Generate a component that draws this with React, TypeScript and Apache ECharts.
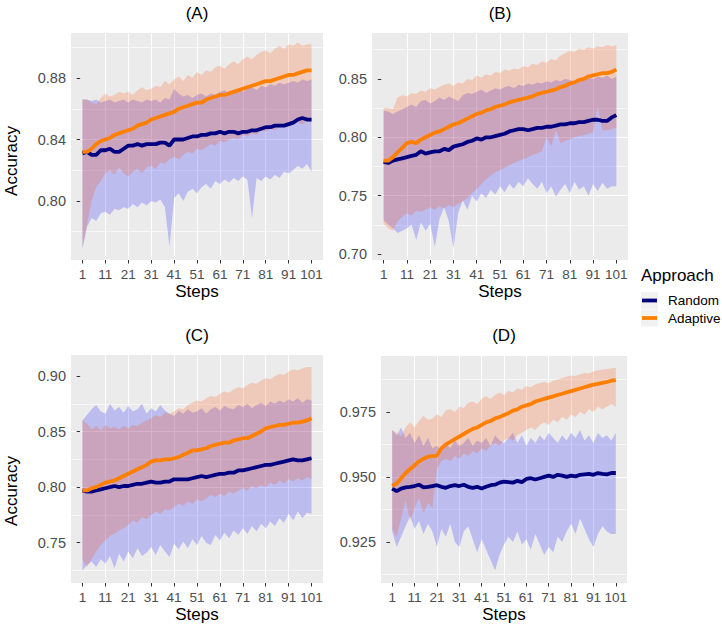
import React, { useEffect, useRef } from "react";
import * as echarts from "echarts";

// ---------- data ----------
const steps = [
  1, 3, 5, 7, 9, 11, 13, 15, 17, 19,
  21, 23, 25, 27, 29, 31, 33, 35, 37, 39,
  41, 43, 45, 47, 49, 51, 53, 55, 57, 59,
  61, 63, 65, 67, 69, 71, 73, 75, 77, 79,
  81, 83, 85, 87, 89, 91, 93, 95, 97, 99, 101,
];
const xTickLabels = [1, 11, 21, 31, 41, 51, 61, 71, 81, 91, 101];
const yTicksA = [0.8, 0.84, 0.88];
const yTicksB = [0.7, 0.75, 0.8, 0.85];
const yTicksC = [0.75, 0.8, 0.85, 0.9];
const yTicksD = [0.925, 0.95, 0.975];
const panelTitles = ["(A)", "(B)", "(C)", "(D)"];
const approaches = ["Random", "Adaptive"];

// Panel A
const aRandomMean = [
  0.831, 0.832, 0.830, 0.830, 0.833, 0.833, 0.834, 0.832, 0.832, 0.834,
  0.836, 0.836, 0.837, 0.836, 0.837, 0.837, 0.837, 0.838, 0.838, 0.836,
  0.840, 0.840, 0.840, 0.841, 0.842, 0.842, 0.843, 0.843, 0.844, 0.844,
  0.845, 0.844, 0.845, 0.845, 0.844, 0.845, 0.845, 0.846, 0.846, 0.847,
  0.848, 0.848, 0.849, 0.849, 0.849, 0.850, 0.851, 0.853, 0.854, 0.853, 0.853,
];
const aRandomLower = [
  0.769, 0.783, 0.789, 0.787, 0.792, 0.793, 0.791, 0.795, 0.794, 0.796,
  0.795, 0.798, 0.796, 0.799, 0.797, 0.800, 0.799, 0.801, 0.796, 0.770,
  0.802, 0.805, 0.800, 0.806, 0.808, 0.805, 0.809, 0.811, 0.808, 0.813,
  0.811, 0.814, 0.812, 0.815, 0.813, 0.816, 0.814, 0.789, 0.815, 0.813,
  0.816, 0.814, 0.817, 0.815, 0.819, 0.818, 0.820, 0.823, 0.821, 0.824, 0.819,
];
const aRandomUpper = [
  0.866, 0.866, 0.865, 0.866, 0.864, 0.865, 0.866, 0.864, 0.865, 0.866,
  0.864, 0.866, 0.865, 0.864, 0.866, 0.865, 0.866, 0.864, 0.867, 0.866,
  0.873, 0.870, 0.868, 0.869, 0.867, 0.869, 0.870, 0.868, 0.870, 0.869,
  0.871, 0.872, 0.870, 0.872, 0.873, 0.871, 0.873, 0.874, 0.872, 0.875,
  0.874, 0.876, 0.875, 0.877, 0.876, 0.877, 0.878, 0.877, 0.879, 0.878, 0.879,
];
const aAdaptiveMean = [
  0.832, 0.832, 0.834, 0.837, 0.839, 0.840, 0.841, 0.843, 0.844, 0.845,
  0.846, 0.847, 0.849, 0.850, 0.851, 0.853, 0.854, 0.855, 0.856, 0.857,
  0.858, 0.860, 0.861, 0.862, 0.863, 0.864, 0.864, 0.866, 0.867, 0.868,
  0.869, 0.869, 0.870, 0.871, 0.872, 0.873, 0.874, 0.875, 0.876, 0.877,
  0.878, 0.878, 0.879, 0.880, 0.881, 0.882, 0.882, 0.883, 0.884, 0.885, 0.885,
];
const aAdaptiveLower = [
  0.770, 0.785, 0.800, 0.809, 0.813, 0.818, 0.820, 0.817, 0.822, 0.818,
  0.816, 0.819, 0.821, 0.818, 0.822, 0.823, 0.821, 0.825, 0.824, 0.827,
  0.829, 0.827, 0.830, 0.832, 0.831, 0.834, 0.833, 0.835, 0.837, 0.836,
  0.839, 0.838, 0.840, 0.841, 0.840, 0.843, 0.842, 0.844, 0.843, 0.846,
  0.845, 0.847, 0.846, 0.848, 0.849, 0.848, 0.850, 0.851, 0.850, 0.852, 0.853,
];
const aAdaptiveUpper = [
  0.866, 0.866, 0.864, 0.863, 0.867, 0.870, 0.868, 0.869, 0.871, 0.870,
  0.871, 0.869, 0.872, 0.874, 0.872, 0.873, 0.875, 0.874, 0.878, 0.876,
  0.879, 0.881, 0.878, 0.882, 0.880, 0.884, 0.882, 0.885, 0.884, 0.887,
  0.888, 0.886, 0.889, 0.891, 0.889, 0.892, 0.894, 0.892, 0.895, 0.897,
  0.898, 0.896, 0.899, 0.901, 0.899, 0.902, 0.901, 0.903, 0.901, 0.902, 0.902,
];

// Panel B
const bRandomMean = [
  0.779, 0.778, 0.780, 0.781, 0.782, 0.783, 0.784, 0.785, 0.788, 0.786,
  0.787, 0.788, 0.788, 0.790, 0.789, 0.792, 0.793, 0.794, 0.796, 0.797,
  0.799, 0.798, 0.800, 0.800, 0.801, 0.802, 0.803, 0.805, 0.806, 0.807,
  0.807, 0.806, 0.807, 0.808, 0.808, 0.809, 0.809, 0.810, 0.811, 0.811,
  0.812, 0.812, 0.813, 0.813, 0.814, 0.815, 0.815, 0.814, 0.814, 0.817, 0.819,
];
const bRandomLower = [
  0.729, 0.725, 0.722, 0.718, 0.720, 0.722, 0.725, 0.712, 0.727, 0.720,
  0.726, 0.706, 0.730, 0.740, 0.728, 0.705, 0.735, 0.746, 0.738, 0.750,
  0.745, 0.752, 0.748, 0.755, 0.751, 0.758, 0.753, 0.760, 0.756, 0.762,
  0.758, 0.765, 0.760, 0.756, 0.762, 0.752, 0.758, 0.749, 0.755, 0.760,
  0.752, 0.762, 0.755, 0.758, 0.750, 0.760, 0.754, 0.761, 0.756, 0.758, 0.758,
];
const bRandomUpper = [
  0.823, 0.822, 0.820, 0.822, 0.824, 0.826, 0.828, 0.826, 0.831, 0.832,
  0.829, 0.831, 0.834, 0.832, 0.835, 0.833, 0.831, 0.836, 0.838, 0.837,
  0.839, 0.841, 0.838, 0.840, 0.842, 0.841, 0.843, 0.844, 0.842, 0.845,
  0.844, 0.846, 0.845, 0.847, 0.846, 0.848, 0.847, 0.849, 0.848, 0.850,
  0.849, 0.848, 0.850, 0.849, 0.851, 0.850, 0.852, 0.851, 0.853, 0.850, 0.852,
];
const bAdaptiveMean = [
  0.780, 0.780, 0.783, 0.787, 0.791, 0.795, 0.796, 0.795, 0.798, 0.800,
  0.802, 0.804, 0.805, 0.807, 0.809, 0.811, 0.812, 0.814, 0.816, 0.818,
  0.820, 0.821, 0.823, 0.824, 0.826, 0.827, 0.828, 0.830, 0.831, 0.832,
  0.833, 0.834, 0.835, 0.837, 0.838, 0.839, 0.840, 0.841, 0.843, 0.844,
  0.846, 0.847, 0.849, 0.850, 0.852, 0.853, 0.854, 0.855, 0.855, 0.856, 0.858,
];
const bAdaptiveLower = [
  0.726, 0.722, 0.720, 0.728, 0.732, 0.735, 0.733, 0.737, 0.736, 0.738,
  0.740, 0.738, 0.741, 0.739, 0.742, 0.740, 0.743, 0.745, 0.748, 0.752,
  0.756, 0.760, 0.764, 0.767, 0.770, 0.772, 0.774, 0.776, 0.778, 0.780,
  0.781, 0.783, 0.785, 0.786, 0.788, 0.800, 0.792, 0.806, 0.795, 0.797,
  0.798, 0.800, 0.801, 0.802, 0.803, 0.804, 0.826, 0.806, 0.806, 0.807, 0.808,
];
const bAdaptiveUpper = [
  0.825, 0.825, 0.824, 0.834, 0.836, 0.835, 0.838, 0.837, 0.840, 0.839,
  0.842, 0.841, 0.843, 0.845, 0.846, 0.844, 0.847, 0.846, 0.850, 0.849,
  0.853, 0.851, 0.854, 0.853, 0.856, 0.855, 0.858, 0.857, 0.859, 0.858,
  0.861, 0.860, 0.863, 0.862, 0.865, 0.864, 0.867, 0.866, 0.870, 0.872,
  0.874, 0.873, 0.876, 0.875, 0.877, 0.876, 0.878, 0.877, 0.879, 0.878, 0.879,
];

// Panel C
const cRandomMean = [
  0.797, 0.796, 0.796, 0.797, 0.798, 0.799, 0.800, 0.801, 0.800, 0.801,
  0.801, 0.802, 0.803, 0.803, 0.804, 0.805, 0.804, 0.804, 0.805, 0.805,
  0.807, 0.807, 0.807, 0.807, 0.808, 0.809, 0.810, 0.809, 0.810, 0.811,
  0.812, 0.812, 0.813, 0.813, 0.815, 0.815, 0.816, 0.817, 0.818, 0.819,
  0.820, 0.820, 0.821, 0.822, 0.823, 0.824, 0.825, 0.824, 0.824, 0.825, 0.826,
];
const cRandomLower = [
  0.725, 0.730, 0.733, 0.728, 0.735, 0.731, 0.738, 0.727, 0.740, 0.733,
  0.742, 0.736, 0.745, 0.738, 0.741, 0.746, 0.739, 0.748, 0.742, 0.737,
  0.749, 0.744, 0.751, 0.745, 0.753, 0.748, 0.756, 0.750, 0.748, 0.757,
  0.752, 0.759, 0.754, 0.761, 0.757, 0.763, 0.758, 0.765, 0.760, 0.767,
  0.763, 0.769, 0.765, 0.772, 0.768, 0.776, 0.770, 0.778, 0.772, 0.777, 0.776,
];
const cRandomUpper = [
  0.860, 0.865, 0.870, 0.874, 0.868, 0.866, 0.875, 0.869, 0.872, 0.867,
  0.873, 0.868, 0.870, 0.875, 0.866, 0.871, 0.868, 0.874, 0.869, 0.866,
  0.864, 0.869, 0.866, 0.870, 0.867, 0.868, 0.871, 0.866, 0.870, 0.872,
  0.869, 0.873, 0.871, 0.870, 0.874, 0.872, 0.875, 0.871, 0.874, 0.876,
  0.873, 0.877, 0.875, 0.878, 0.876, 0.879, 0.877, 0.880, 0.876, 0.879, 0.878,
];
const cAdaptiveMean = [
  0.797, 0.797, 0.799, 0.800, 0.802, 0.804, 0.805, 0.806, 0.808, 0.810,
  0.812, 0.814, 0.816, 0.818, 0.820, 0.823, 0.824, 0.824, 0.825, 0.825,
  0.826, 0.827, 0.829, 0.831, 0.833, 0.833, 0.834, 0.835, 0.837, 0.838,
  0.839, 0.840, 0.840, 0.842, 0.843, 0.844, 0.844, 0.846, 0.848, 0.850,
  0.853, 0.854, 0.855, 0.856, 0.856, 0.857, 0.858, 0.858, 0.859, 0.860, 0.862,
];
const cAdaptiveLower = [
  0.735, 0.728, 0.735, 0.742, 0.748, 0.752, 0.756, 0.758, 0.761, 0.763,
  0.766, 0.770, 0.768, 0.773, 0.771, 0.775, 0.778, 0.776, 0.780, 0.779,
  0.782, 0.785, 0.783, 0.787, 0.785, 0.789, 0.787, 0.790, 0.793, 0.791,
  0.794, 0.792, 0.796, 0.794, 0.797, 0.799, 0.797, 0.801, 0.799, 0.802,
  0.800, 0.804, 0.802, 0.806, 0.803, 0.807, 0.805, 0.808, 0.806, 0.809, 0.807,
];
const cAdaptiveUpper = [
  0.860, 0.857, 0.852, 0.855, 0.851, 0.856, 0.853, 0.854, 0.852, 0.855,
  0.853, 0.856, 0.855, 0.858, 0.860, 0.862, 0.865, 0.863, 0.867, 0.866,
  0.868, 0.871, 0.870, 0.874, 0.876, 0.878, 0.877, 0.880, 0.882, 0.881,
  0.884, 0.886, 0.885, 0.888, 0.890, 0.889, 0.892, 0.894, 0.893, 0.896,
  0.898, 0.897, 0.900, 0.902, 0.901, 0.904, 0.906, 0.905, 0.907, 0.908, 0.908,
];

// Panel D
const dRandomMean = [
  0.9455, 0.9445, 0.9455, 0.946, 0.9462, 0.9465, 0.947, 0.946, 0.9462, 0.9465,
  0.9468, 0.9462, 0.9458, 0.9465, 0.9468, 0.9465, 0.947, 0.9462, 0.9458, 0.9462,
  0.9455, 0.9462, 0.9468, 0.947, 0.9478, 0.9482, 0.948, 0.9478, 0.9485, 0.948,
  0.9492, 0.9495, 0.949, 0.9495, 0.95, 0.9505, 0.95, 0.9508, 0.9505, 0.95,
  0.9505, 0.9502, 0.9508, 0.951, 0.9512, 0.9508, 0.9515, 0.9512, 0.951, 0.9515, 0.9515,
];
const dRandomLower = [
  0.929, 0.923, 0.927, 0.931, 0.935, 0.930, 0.933, 0.928, 0.932, 0.929,
  0.923, 0.930, 0.927, 0.932, 0.925, 0.923, 0.929, 0.931, 0.926, 0.921,
  0.926, 0.922, 0.918, 0.914, 0.920, 0.924, 0.927, 0.925, 0.929, 0.924,
  0.926, 0.922, 0.928, 0.924, 0.920, 0.923, 0.921, 0.927, 0.925, 0.929,
  0.932, 0.928, 0.934, 0.930, 0.926, 0.923, 0.928, 0.931, 0.929, 0.928, 0.928,
];
const dRandomUpper = [
  0.968, 0.966, 0.969, 0.965, 0.967, 0.963, 0.966, 0.962, 0.965, 0.961,
  0.962, 0.960, 0.963, 0.961, 0.964, 0.962, 0.963, 0.965, 0.962, 0.964,
  0.963, 0.965, 0.962, 0.966, 0.964, 0.963, 0.965, 0.967, 0.963, 0.966,
  0.962, 0.965, 0.963, 0.966, 0.964, 0.967, 0.965, 0.963, 0.966, 0.964,
  0.967, 0.965, 0.968, 0.964, 0.966, 0.963, 0.967, 0.965, 0.966, 0.964, 0.967,
];
const dAdaptiveMean = [
  0.9465, 0.9475, 0.9495, 0.9515, 0.953, 0.9545, 0.956, 0.957, 0.9578, 0.958,
  0.9582, 0.961, 0.9625, 0.9635, 0.9645, 0.9655, 0.9665, 0.9675, 0.9685, 0.969,
  0.97, 0.971, 0.9715, 0.9725, 0.973, 0.9738, 0.9745, 0.9755, 0.976, 0.977,
  0.9775, 0.978, 0.979, 0.9795, 0.98, 0.9805, 0.981, 0.9815, 0.982, 0.9825,
  0.983, 0.9835, 0.984, 0.9845, 0.985, 0.9855, 0.9858, 0.9862, 0.9865, 0.987, 0.9872,
];
const dAdaptiveLower = [
  0.930, 0.927, 0.934, 0.941, 0.933, 0.938, 0.942, 0.936, 0.940, 0.938,
  0.953, 0.956, 0.957, 0.956, 0.958, 0.957, 0.959, 0.958, 0.960, 0.959,
  0.961, 0.960, 0.962, 0.963, 0.962, 0.964, 0.965, 0.964, 0.966, 0.967,
  0.968, 0.969, 0.968, 0.970, 0.971, 0.970, 0.972, 0.971, 0.973, 0.972,
  0.974, 0.973, 0.975, 0.974, 0.976, 0.975, 0.977, 0.976, 0.977, 0.978, 0.977,
];
const dAdaptiveUpper = [
  0.968, 0.967, 0.9655, 0.969, 0.971, 0.969, 0.9715, 0.9735, 0.972, 0.9725,
  0.974, 0.973, 0.9755, 0.976, 0.975, 0.977, 0.9765, 0.9785, 0.979, 0.978,
  0.98, 0.981, 0.98, 0.9815, 0.9825, 0.9815, 0.983, 0.9825, 0.984, 0.9835,
  0.985, 0.9845, 0.9855, 0.986, 0.9865, 0.986, 0.987, 0.9875, 0.988, 0.9885,
  0.989, 0.9888, 0.9895, 0.99, 0.9898, 0.9905, 0.991, 0.9912, 0.9915, 0.9918, 0.992,
];

// ---------- layout & style ----------
const FONT = "'Liberation Sans', Arial, Helvetica, sans-serif";
const RANDOM_LINE = "#000080";
const ADAPTIVE_LINE = "#FF7F00";
const RANDOM_FILL = "rgba(0,0,255,0.2)";
const ADAPTIVE_FILL = "rgba(255,80,10,0.22)";

const panels = [
  {
    grid: { left: 71, top: 33, width: 252, height: 227 },
    yMin: 0.7616, yMax: 0.9093, yStep: 0.04, yTicks: yTicksA, dec: 2,
    random: [aRandomMean, aRandomLower, aRandomUpper],
    adaptive: [aAdaptiveMean, aAdaptiveLower, aAdaptiveUpper],
    yTitle: { x: 11, y: 161 }, stepsY: 291,
  },
  {
    grid: { left: 372, top: 33, width: 256, height: 227 },
    yMin: 0.6949, yMax: 0.8893, yStep: 0.05, yTicks: yTicksB, dec: 2,
    random: [bRandomMean, bRandomLower, bRandomUpper],
    adaptive: [bAdaptiveMean, bAdaptiveLower, bAdaptiveUpper],
    yTitle: null, stepsY: 291,
  },
  {
    grid: { left: 71, top: 355, width: 252, height: 228 },
    yMin: 0.7137, yMax: 0.9189, yStep: 0.05, yTicks: yTicksC, dec: 2,
    random: [cRandomMean, cRandomLower, cRandomUpper],
    adaptive: [cAdaptiveMean, cAdaptiveLower, cAdaptiveUpper],
    yTitle: { x: 11, y: 491 }, stepsY: 614,
  },
  {
    grid: { left: 381, top: 356, width: 246, height: 227 },
    yMin: 0.9092, yMax: 0.9965, yStep: 0.025, yTicks: yTicksD, dec: 3,
    random: [dRandomMean, dRandomLower, dRandomUpper],
    adaptive: [dAdaptiveMean, dAdaptiveLower, dAdaptiveUpper],
    yTitle: null, stepsY: 614,
  },
];

function ribbon(idx: number, name: string, lower: number[], upper: number[], fill: string) {
  return {
    type: "custom",
    name,
    xAxisIndex: idx,
    yAxisIndex: idx,
    silent: true,
    clip: true,
    z: 2,
    data: steps.map((s, i) => [s, lower[i], upper[i]]),
    encode: { x: 0, y: [1, 2] },
    renderItem: (params: any, api: any) => {
      if (params.dataIndex !== 0) return { type: "group", children: [] };
      const pts: number[][] = [];
      for (let i = 0; i < steps.length; i++) pts.push(api.coord([steps[i], upper[i]]));
      for (let i = steps.length - 1; i >= 0; i--) pts.push(api.coord([steps[i], lower[i]]));
      return { type: "polygon", shape: { points: pts }, style: { fill, stroke: "none" } };
    },
  };
}

function meanLine(idx: number, name: string, mean: number[], color: string) {
  return {
    type: "line",
    name,
    xAxisIndex: idx,
    yAxisIndex: idx,
    silent: true,
    z: 3,
    showSymbol: false,
    symbol: "none",
    data: steps.map((s, i) => [s, mean[i]]),
    lineStyle: { color, width: 3.8 },
    itemStyle: { color },
  };
}

export default function App() {
  const ref = useRef<HTMLDivElement>(null);
  useEffect(() => {
    if (!ref.current) return;
    const chart = echarts.init(ref.current, undefined, { renderer: "svg" });

    const grids = panels.map((p) => ({
      ...p.grid,
      show: true,
      backgroundColor: "#EBEBEB",
      borderWidth: 0,
      containLabel: false,
      outerBoundsMode: "none",
    }));

    const xAxes = panels.map((p, i) => ({
      type: "value",
      gridIndex: i,
      min: -4,
      max: 106,
      interval: 5,
      axisLine: { show: false },
      axisTick: {
        show: true, length: 3.5, customValues: xTickLabels,
        lineStyle: { color: "#333333", width: 1 },
      },
      axisLabel: {
        color: "#4D4D4D", fontSize: 13.5, fontFamily: FONT, margin: 7,
        customValues: xTickLabels,
        formatter: (v: number) => String(Math.round(v)),
      },
      splitLine: {
        show: true, showMinLine: false, showMaxLine: false,
        lineStyle: { color: "#FFFFFF", width: 1 },
      },
    }));

    const yAxes = panels.map((p, i) => ({
      type: "value",
      gridIndex: i,
      min: p.yMin,
      max: p.yMax,
      minInterval: p.yStep,
      maxInterval: p.yStep,
      axisLine: { show: false },
      axisTick: {
        show: true, length: 3.5, customValues: p.yTicks,
        lineStyle: { color: "#333333", width: 1 },
      },
      axisLabel: {
        color: "#4D4D4D", fontSize: 14.5, fontFamily: FONT, margin: 5,
        customValues: p.yTicks,
        formatter: (v: number) => v.toFixed(p.dec),
      },
      splitLine: {
        show: true, showMinLine: false, showMaxLine: false,
        lineStyle: { color: "#FFFFFF", width: 1.2 },
      },
      minorTick: { show: false, splitNumber: 2 },
      minorSplitLine: { show: true, lineStyle: { color: "#FFFFFF", width: 0.6 } },
    }));

    const series: any[] = [];
    panels.forEach((p, i) => {
      series.push(ribbon(i, approaches[0], p.random[1], p.random[2], RANDOM_FILL));
      series.push(ribbon(i, approaches[1], p.adaptive[1], p.adaptive[2], ADAPTIVE_FILL));
    });
    panels.forEach((p, i) => {
      series.push(meanLine(i, approaches[0], p.random[0], RANDOM_LINE));
      series.push(meanLine(i, approaches[1], p.adaptive[0], ADAPTIVE_LINE));
    });

    const graphics: any[] = [];
    panels.forEach((p, i) => {
      const cx = p.grid.left + p.grid.width / 2;
      graphics.push({
        type: "text", x: cx, y: i < 2 ? 13 : 335.5, z: 10,
        style: { text: panelTitles[i], align: "center", verticalAlign: "middle", fontSize: 17, fontFamily: FONT, fill: "#000" },
      });
      graphics.push({
        type: "text", x: cx, y: p.stepsY, z: 10,
        style: { text: "Steps", align: "center", verticalAlign: "middle", fontSize: 17, fontFamily: FONT, fill: "#000" },
      });
      if (p.yTitle) {
        graphics.push({
          type: "text", x: p.yTitle.x, y: p.yTitle.y, rotation: Math.PI / 2, z: 10,
          style: { text: "Accuracy", align: "center", verticalAlign: "middle", fontSize: 17, fontFamily: FONT, fill: "#000" },
        });
      }
    });
    // legend
    graphics.push({
      type: "text", x: 641, y: 275.5, z: 10,
      style: { text: "Approach", align: "left", verticalAlign: "middle", fontSize: 17, fontFamily: FONT, fill: "#000" },
    });
    const keyColors = [RANDOM_LINE, ADAPTIVE_LINE];
    approaches.forEach((a, k) => {
      const top = 292 + k * 17.5;
      graphics.push({
        type: "rect", z: 10, shape: { x: 641, y: top, width: 17, height: 17 },
        style: { fill: "#F2F2F2", stroke: "none" },
      });
      graphics.push({
        type: "line", z: 11, shape: { x1: 642, y1: top + 8.5, x2: 657, y2: top + 8.5 },
        style: { stroke: keyColors[k], lineWidth: 3.8 },
      });
      graphics.push({
        type: "text", x: 668, y: top + 8.5, z: 10,
        style: { text: a, align: "left", verticalAlign: "middle", fontSize: 13.5, fontFamily: FONT, fill: "#000" },
      });
    });

    chart.setOption({
      animation: false,
      backgroundColor: "#FFFFFF",
      textStyle: { fontFamily: FONT },
      grid: grids,
      xAxis: xAxes,
      yAxis: yAxes,
      series,
      graphic: graphics,
    });
    return () => chart.dispose();
  }, []);
  return (
    <div
      ref={ref}
      style={{ position: "fixed", left: 0, top: 0, width: 722, height: 627 }}
    />
  );
}
